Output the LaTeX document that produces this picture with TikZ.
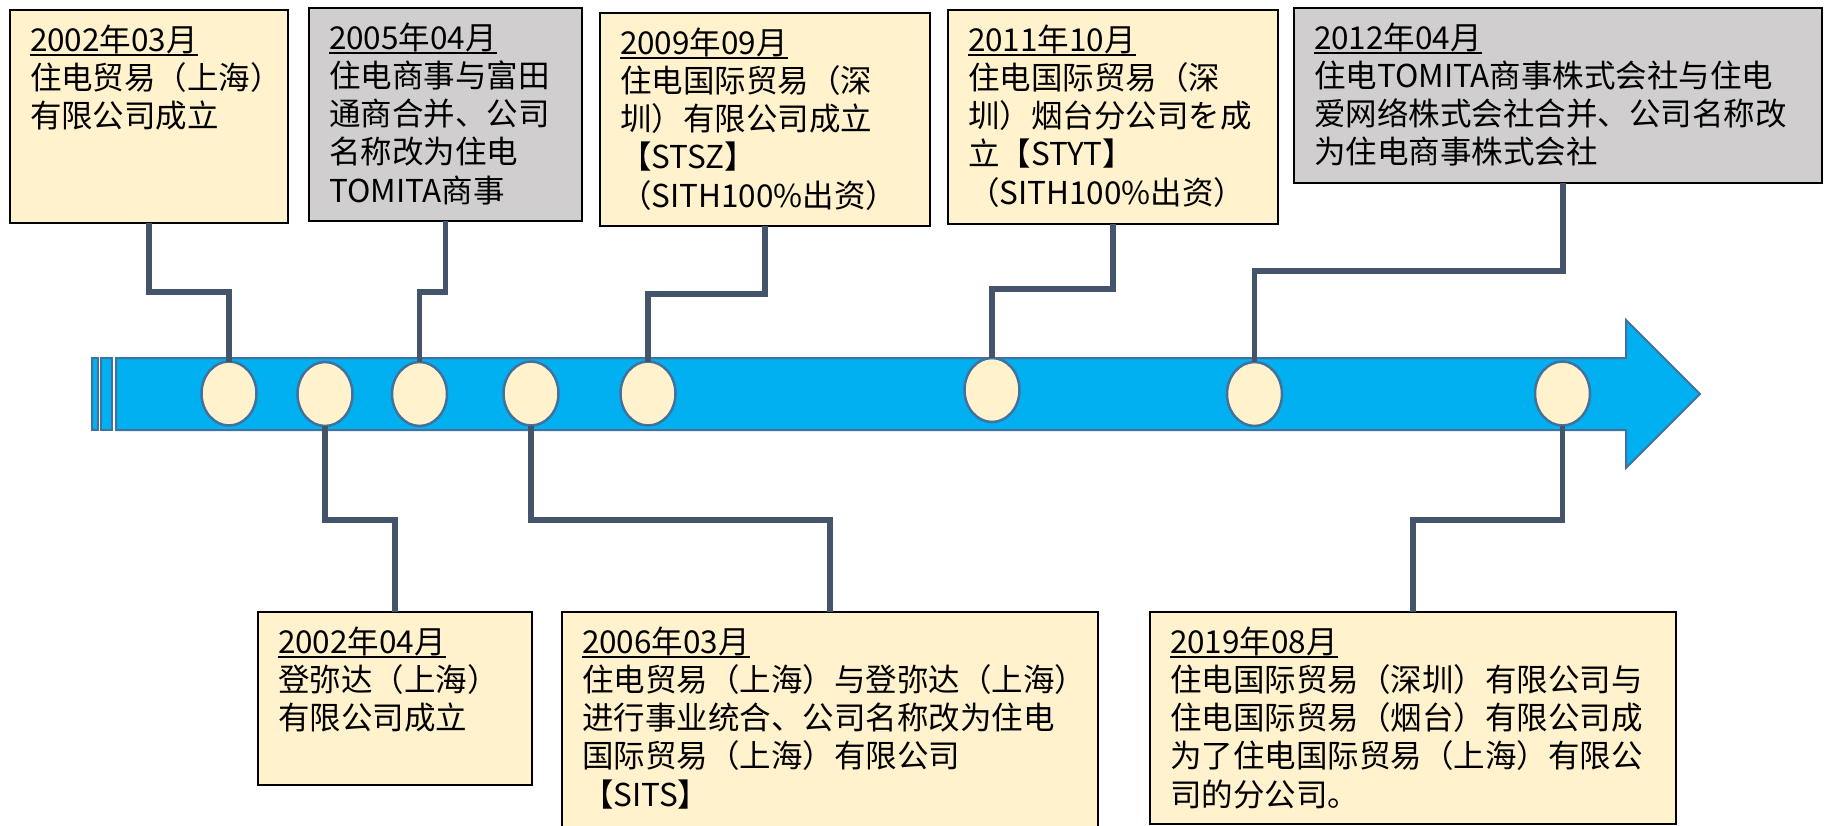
\documentclass[tikz,border=0pt]{standalone}
\usepackage{fontspec}
\newfontfamily\cjk{Noto Sans CJK SC}
\usetikzlibrary{shapes.geometric}
\definecolor{barfill}{HTML}{00B0F0}
\definecolor{barline}{HTML}{41719C}
\definecolor{yfill}{HTML}{FFF2CC}
\definecolor{gfill}{HTML}{D0CECE}
\definecolor{connc}{HTML}{44546A}
\newcommand\datehead[1]{\rule{0pt}{30pt}\setbox0=\hbox{#1}\rlap{\rule[-4.5pt]{\wd0}{2pt}}\box0}
\begin{document}
\begin{tikzpicture}[x=1pt,y=-1pt,
  ybox/.style={rectangle,draw=black,line width=2pt,fill=yfill,anchor=north west,inner sep=0,outer sep=0},
  gbox/.style={ybox,fill=gfill},
  txt/.style={anchor=north west,inner sep=0,outer sep=0,align=left,text width=560pt,font=\cjk\fontsize{31.5}{38.3}\selectfont},
  dot/.style={ellipse,draw=barline,fill=yfill,line width=2.5pt,minimum width=55pt,minimum height=64pt,inner sep=0,outer sep=0},
  conn/.style={draw=connc,line width=5.5pt},
  band/.style={draw=barline,line width=2pt,fill=barfill}]
\useasboundingbox (0,0) rectangle (1824,825);

% timeline band
\draw[band] (92,358) rectangle (98,430);
\draw[band] (101,358) rectangle (112,430);
\draw[band] (116,358) -- (1626,358) -- (1626,320) -- (1700,394) -- (1626,468) -- (1626,430) -- (116,430) -- cycle;

% boxes
\node[ybox,minimum width=278pt,minimum height=213pt] (bA) at (10,10) {};
\node[gbox,minimum width=273pt,minimum height=213pt] (bB) at (309,8) {};
\node[ybox,minimum width=330pt,minimum height=213pt] (bC) at (600,13) {};
\node[ybox,minimum width=330pt,minimum height=214pt] (bD) at (948,10) {};
\node[gbox,minimum width=528pt,minimum height=175pt] (bE) at (1294,8) {};
\node[ybox,minimum width=274pt,minimum height=173pt] (bG) at (258,612) {};
\node[ybox,minimum width=536pt,minimum height=216pt] (bH) at (562,612) {};
\node[ybox,minimum width=526pt,minimum height=212pt] (bI) at (1150,612) {};

% milestones
\node[dot] (e1) at (229,393.5) {};
\node[dot] (e2) at (325,394) {};
\node[dot] (e3) at (419.5,394) {};
\node[dot] (e4) at (531,393.5) {};
\node[dot] (e5) at (648,393.5) {};
\node[dot] (e6) at (992,390) {};
\node[dot] (e7) at (1254.5,394) {};
\node[dot] (e8) at (1562.5,393.5) {};

% connectors (top)
\draw[conn] (bA.south) -- (bA.south |- 0,292) -| (e1.north);
\draw[conn] (bB.south) -- (bB.south |- 0,292) -| (e3.north);
\draw[conn] (bC.south) -- (bC.south |- 0,294) -| (e5.north);
\draw[conn] (bD.south) -- (bD.south |- 0,289) -| (e6.north);
\draw[conn] ([xshift=5pt]bE.south) -- ([xshift=5pt]bE.south |- 0,271) -| (e7.north);
% connectors (bottom)
\draw[conn] (e2.south) -- (e2.south |- 0,520) -| (bG.north);
\draw[conn] (e4.south) -- (e4.south |- 0,520) -| (bH.north);
\draw[conn] (e8.south) -- (e8.south |- 0,520) -| (bI.north);

% texts
\node[txt] (tA) at ([xshift=20pt,yshift=-11pt]bA.north west) {\datehead{2002年03月}\\住电贸易（上海）\\有限公司成立};
\node[txt] (tB) at ([xshift=20pt,yshift=-11pt]bB.north west) {\datehead{2005年04月}\\住电商事与富田\\通商合并、公司\\名称改为住电\\TOMITA商事};
\node[txt] (tC) at ([xshift=20pt,yshift=-11pt]bC.north west) {\datehead{2009年09月}\\住电国际贸易（深\\圳）有限公司成立\\【STSZ】\\（SITH100\%出资）};
\node[txt] (tD) at ([xshift=20pt,yshift=-11pt]bD.north west) {\datehead{2011年10月}\\住电国际贸易（深\\圳）烟台分公司を成\\立【STYT】\\（SITH100\%出资）};
\node[txt] (tE) at ([xshift=20pt,yshift=-11pt]bE.north west) {\datehead{2012年04月}\\住电TOMITA商事株式会社与住电\\爱网络株式会社合并、公司名称改\\为住电商事株式会社};
\node[txt] (tG) at ([xshift=20pt,yshift=-11pt]bG.north west) {\datehead{2002年04月}\\登弥达（上海）\\有限公司成立};
\node[txt] (tH) at ([xshift=20pt,yshift=-11pt]bH.north west) {\datehead{2006年03月}\\住电贸易（上海）与登弥达（上海）\\进行事业统合、公司名称改为住电\\国际贸易（上海）有限公司\\【SITS】};
\node[txt] (tI) at ([xshift=20pt,yshift=-11pt]bI.north west) {\datehead{2019年08月}\\住电国际贸易（深圳）有限公司与\\住电国际贸易（烟台）有限公司成\\为了住电国际贸易（上海）有限公\\司的分公司。};
\end{tikzpicture}
\end{document}
